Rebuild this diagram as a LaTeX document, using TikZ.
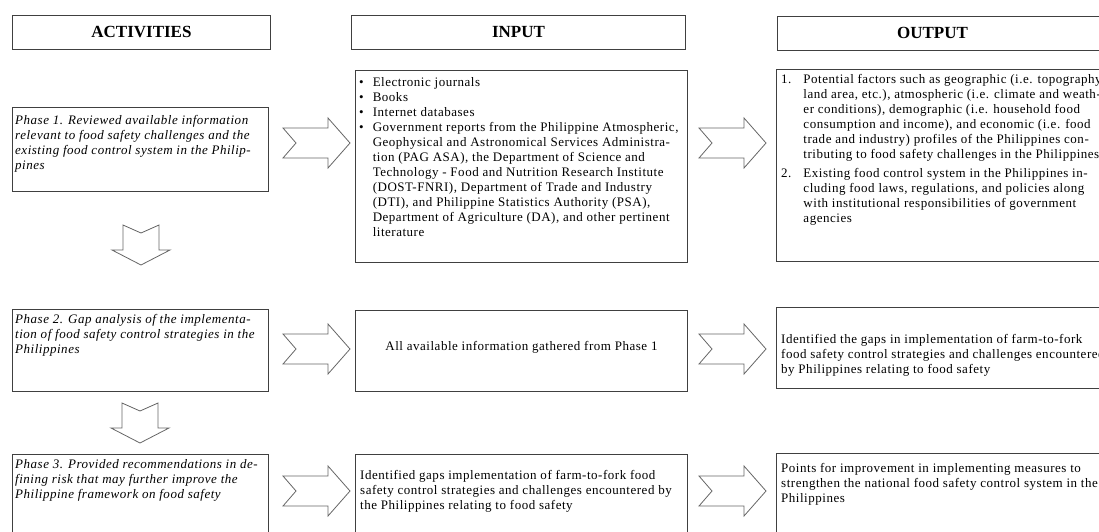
\documentclass[tikz,border=0pt]{standalone}
\usepackage{fontspec}
\setmainfont{Liberation Serif}
\newfontfamily\bodyfont[LetterSpace=4]{Liberation Serif}
\usetikzlibrary{calc}

\tikzset{
  box/.style={draw=black!75,line width=0.9pt,minimum width=#1,anchor=north west,inner sep=0pt},
  txt/.style={anchor=north west,inner sep=0pt,align=left,font=\bodyfont\fontsize{13}{15}\selectfont},
  itxt/.style={txt,font=\bodyfont\fontsize{13}{15}\selectfont\itshape},
  head/.style={font=\fontsize{17}{20}\selectfont\bfseries},
  blk/.style={draw=black!60,line width=0.8pt,line join=miter,fill=white},
  rarr/.pic={\draw[blk] (0,-15) -- (45,-15) -- (45,-25) -- (67,0) -- (45,25) -- (45,15) -- (0,15) -- (13,0) -- cycle;},
  darr/.pic={\draw[blk] (-18,0) -- (0,8) -- (18,0) -- (18,25) -- (29,25) -- (0,40) -- (-29,25) -- (-18,25) -- cycle;}
}

\begin{document}
\begin{tikzpicture}[x=1pt,y=-1pt]
\useasboundingbox (0,0) rectangle (1099,531);
\clip (0,0) rectangle (1099,531);

% headers
\node[box=258,minimum height=34] (hact) at (12,15) {};
\node[head] at (hact.center) {ACTIVITIES};
\node[box=334,minimum height=34] (hin) at (351,15) {};
\node[head] at (hin.center) {INPUT};
\node[box=340,minimum height=34] (hout) at (777,16) {};
\node[head] at ($(hout.center)+(-15,0)$) {OUTPUT};

% row 1
\node[box=256,minimum height=84] (ph1) at (12,107) {};
\node[itxt] (ph1t) at ($(ph1.north west)+(3,8)$) {Phase 1. Reviewed available information\\
relevant to food safety challenges and the\\
existing food control system in the Philip-\\
pines};
\node[box=332,minimum height=192] (in1) at (355,70) {};
\node[txt] (in1t) at ($(in1.north west)+(4,6)$) {\begin{tabular}{@{}c@{\hspace{9pt}}l@{}}
\textbullet & Electronic journals\\
\textbullet & Books\\
\textbullet & Internet databases\\
\textbullet & Government reports from the Philippine Atmospheric,\\
 & Geophysical and Astronomical Services Administra-\\
 & tion (PAG ASA), the Department of Science and\\
 & Technology - Food and Nutrition Research Institute\\
 & (DOST-FNRI), Department of Trade and Industry\\
 & (DTI), and Philippine Statistics Authority (PSA),\\
 & Department of Agriculture (DA),  and other pertinent\\
 & literature
\end{tabular}};
\node[box=334,minimum height=192] (out1) at (776,69) {};
\node[txt] (out1t) at ($(out1.north west)+(5,4)$) {\begin{tabular}{@{}l@{\hspace{12pt}}l@{}}
1. & Potential factors such as geographic (i.e. topography\\
 & land area, etc.), atmospheric (i.e. climate and weath-\\
 & er conditions), demographic (i.e. household food\\
 & consumption and income), and economic (i.e. food\\
 & trade and industry) profiles of the Philippines con-\\
 & tributing to food safety challenges in the Philippines\\[4pt]
2. & Existing food control system in the Philippines in-\\
 & cluding food laws, regulations, and policies along\\
 & with institutional responsibilities of government\\
 & agencies
\end{tabular}};
\pic at (283,143) {rarr};
\pic at (699,143) {rarr};
\pic at (141,225) {darr};

% row 2
\node[box=256,minimum height=82] (ph2) at (12,309) {};
\node[itxt] (ph2t) at ($(ph2.north west)+(3,5)$) {Phase 2. Gap analysis of the implementa-\\
tion of food safety control strategies in the\\
Philippines};
\node[box=332,minimum height=81] (in2) at (355,310) {};
\node[txt,anchor=center] (in2t) at ($(in2.center)+(0,-4)$) {All available information gathered from Phase 1};
\node[box=334,minimum height=81] (out2) at (776,307) {};
\node[txt] (out2t) at ($(out2.north west)+(5,27)$) {Identified the gaps in implementation of farm-to-fork\\
food safety control strategies and challenges encountered\\
by Philippines  relating to food safety};
\pic at (283,349) {rarr};
\pic at (699,349) {rarr};
\pic at (140,403) {darr};

% row 3
\node[box=256,minimum height=90] (ph3) at (12,454) {};
\node[itxt] (ph3t) at ($(ph3.north west)+(3,5)$) {Phase 3. Provided recommendations in de-\\
fining risk that may further improve the\\
Philippine framework on food safety};
\node[box=332,minimum height=90] (in3) at (355,454) {};
\node[txt] (in3t) at ($(in3.north west)+(5,16)$) {Identified gaps implementation of farm-to-fork food\\
safety control strategies and challenges encountered by\\
the Philippines relating to food safety};
\node[box=334,minimum height=90] (out3) at (776,453) {};
\node[txt] (out3t) at ($(out3.north west)+(5,10)$) {Points for improvement in implementing measures to\\
strengthen the national food safety control system in the\\
Philippines};
\pic at (283,491) {rarr};
\pic at (699,491) {rarr};
\end{tikzpicture}
\end{document}
